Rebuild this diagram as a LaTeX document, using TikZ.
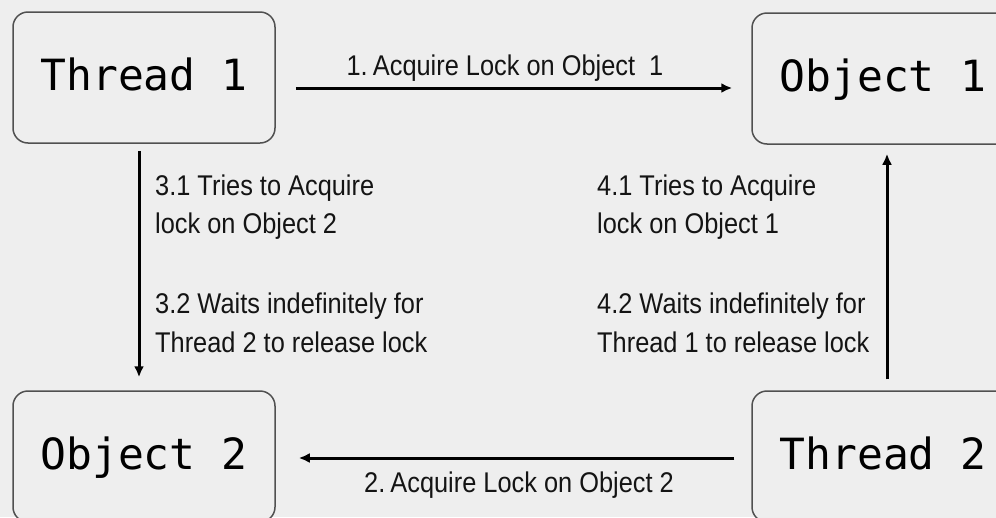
\documentclass[tikz,border=0pt]{standalone}
\usepackage{fontspec}
\newfontfamily\monof{DejaVu Sans Mono}
\newfontfamily\lblf[FakeStretch=0.89]{Liberation Sans}
\usetikzlibrary{arrows.meta}
\definecolor{bgc}{RGB}{238,238,238}
\definecolor{edgec}{RGB}{80,80,80}
\definecolor{txtc}{RGB}{20,20,20}
\begin{document}
\begin{tikzpicture}[x=1pt,y=-1pt,
  box/.style={draw=edgec, line width=1.5pt, rounded corners=15pt,
    minimum width=262pt, minimum height=131pt, inner sep=0pt,
    text height=32pt, text depth=6pt,
    font=\monof\fontsize{43}{50}\selectfont, fill=bgc},
  lbl/.style={font=\lblf\fontsize{28.5}{38.5}\selectfont, align=left,
    inner sep=0pt, anchor=base west, text=txtc},
  arr/.style={line width=3pt, -{Latex[length=11pt,width=10pt]}}]
\fill[bgc] (0,0) rectangle (996,517);
\useasboundingbox (0,0) rectangle (996,517);
\clip (0,0) rectangle (996,517);

\node[box] (t1) at (144,77.5) {Thread 1};
\node[box] (o1) at (883,78.5) {Object 1};
\node[box] (o2) at (144,456.5) {Object 2};
\node[box] (t2) at (883,456.5) {Thread 2};

\draw[arr] ([xshift=20pt,yshift=-10.5pt]t1.east) -- ([xshift=-19pt,yshift=-9.5pt]o1.west);
\draw[arr] ([xshift=-17pt,yshift=-1.5pt]t2.west) -- ([xshift=23pt,yshift=-1.5pt]o2.east);
\draw[arr] ([xshift=-5pt,yshift=-7pt]t1.south) -- ([xshift=-5pt,yshift=13pt]o2.north);
\draw[arr] ([xshift=4pt,yshift=11pt]t2.north) -- ([xshift=4pt,yshift=-9pt]o1.south);

\node[lbl, anchor=base] (l1) at (505,75) {1.\hspace{0.18em}Acquire Lock on Object\ \ 1};
\node[lbl, anchor=base] (l2) at (519,492) {2.\hspace{0.18em}Acquire Lock on Object 2};
\node[lbl] (l31) at (155,233.5) {3.1 Tries to Acquire\\lock on Object 2};
\node[lbl] (l32) at (155,352) {3.2 Waits indefinitely for\\Thread 2 to release lock};
\node[lbl] (l41) at (597,233.5) {4.1 Tries to Acquire\\lock on Object 1};
\node[lbl] (l42) at (597,352) {4.2 Waits indefinitely for\\Thread 1 to release lock};
\end{tikzpicture}
\end{document}
